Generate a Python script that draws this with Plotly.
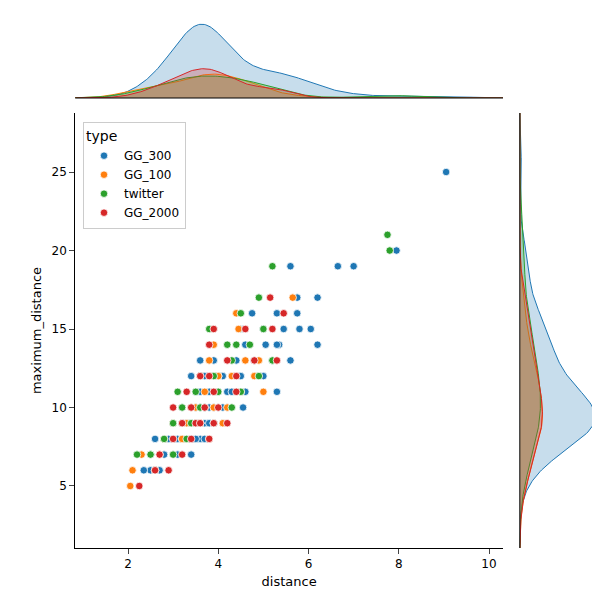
import numpy as np
import plotly.graph_objects as go

types = ["GG_300", "GG_100", "twitter", "GG_2000"]
colors = {"GG_300": "#1f77b4", "GG_100": "#ff7f0e", "twitter": "#2ca02c", "GG_2000": "#d62728"}

gg300_dist = [9.05, 7.95, 7.0, 6.65, 5.6, 6.2, 5.75, 5.3, 5.75, 4.75, 6.05, 5.8, 5.45, 5.0, 4.5,
              6.2, 5.35, 5.05, 4.6, 5.3, 5.6, 5.2, 4.8, 4.4, 3.9, 3.6, 5.3, 4.5, 4.1, 3.7, 3.4, 5.0,
              4.6, 4.2, 3.8, 3.5, 4.0, 4.55, 4.2, 3.9, 3.5, 3.2, 4.1, 3.8, 3.5, 3.2, 3.0, 3.4, 3.1,
              2.8, 2.6, 3.6, 3.4, 3.1, 2.8, 2.5, 2.7, 2.5, 2.35,
              3.3, 3.5, 3.6, 3.7, 3.8, 3.9, 3.4, 3.6, 3.7, 3.5, 3.9, 4.0, 3.3, 3.6, 3.8, 3.2, 3.5,
              3.7, 4.1, 3.6, 3.4, 3.8, 3.0, 3.9, 3.5, 3.7, 4.3, 3.6, 2.9, 3.3, 4.0]
gg300_max = [25, 20, 19, 19, 19, 17, 17, 16, 16, 16, 15, 15, 15, 15, 15,
             14, 14, 14, 14, 14, 13, 13, 13, 13, 13, 13, 11, 12, 12, 12, 12, 12,
             11, 11, 11, 11, 11, 10, 10, 10, 10, 10, 9, 9, 9, 9, 9, 8, 8,
             8, 8, 8, 7, 7, 7, 7, 6, 6, 6,
             9, 9, 10, 10, 9, 11, 8, 9, 10, 10, 9, 10, 9, 11, 10, 8, 8,
             9, 10, 10, 9, 9, 8, 10, 9, 8, 11, 9, 8, 9, 12]

gg100_dist = [5.65, 4.4, 4.45, 4.9, 4.6, 3.8, 4.3, 3.9, 4.0, 4.5, 3.7, 3.9, 3.4, 3.0, 3.6,
              2.8, 3.2, 2.7, 2.3, 2.1, 2.05, 2.6, 4.1, 3.8, 4.8, 5.0, 3.5, 3.3, 4.2, 3.6]
gg100_max = [17, 16, 15, 13, 13, 13, 12, 14, 12, 11, 11, 10, 10, 9, 9,
             8, 8, 7, 7, 6, 5, 6, 9, 8, 12, 11, 10, 9, 10, 9]

tw_dist = [7.75, 7.8, 5.2, 4.9, 4.5, 5.0, 3.8, 4.2, 4.4, 4.7, 5.2, 4.3, 3.6, 4.9, 3.9, 3.1,
           3.5, 4.5, 3.2, 3.7, 4.3, 3.0, 3.5, 3.9, 2.8, 3.3, 2.5, 2.2, 2.6, 3.0, 4.0, 3.6, 3.4]
tw_max = [21, 20, 19, 17, 16, 15, 15, 14, 14, 14, 13, 13, 12, 12, 12, 11,
          11, 11, 10, 10, 10, 9, 9, 9, 8, 8, 7, 7, 6, 7, 11, 10, 9]

gg2000_dist = [5.15, 5.45, 3.9, 5.2, 4.6, 3.8, 4.2, 4.8, 5.3, 3.6, 4.4, 3.3, 3.9, 4.4, 3.4,
               4.0, 3.2, 3.5, 3.9, 4.2, 3.0, 3.4, 3.8, 2.7, 3.2, 2.9, 2.6, 2.25, 3.8, 3.0, 3.6, 3.7]
gg2000_max = [17, 16, 15, 15, 15, 14, 13, 13, 13, 12, 12, 11, 11, 11, 10,
              10, 9, 9, 9, 9, 8, 8, 8, 7, 7, 6, 6, 5, 12, 10, 9, 10]

data = {
    "GG_300": (gg300_dist, gg300_max),
    "GG_100": (gg100_dist, gg100_max),
    "twitter": (tw_dist, tw_max),
    "GG_2000": (gg2000_dist, gg2000_max),
}
total = sum(len(v[0]) for v in data.values())


def kde(values, grid):
    v = np.asarray(values, float)
    bw = v.std(ddof=1) * len(v) ** (-1 / 5)
    d = np.exp(-0.5 * ((grid[:, None] - v[None, :]) / bw) ** 2).sum(1)
    return d / (np.sqrt(2 * np.pi) * bw * total)


def rgba(hexc, a):
    h = hexc.lstrip("#")
    return f"rgba({int(h[0:2],16)},{int(h[2:4],16)},{int(h[4:6],16)},{a})"


fig = go.Figure()
gx = np.linspace(0.8, 10.4, 300)
gy = np.linspace(1.0, 28.8, 300)
top_max = 0
right_max = 0
for t in types:
    xs, ys = data[t]
    c = colors[t]
    kx, ky = kde(xs, gx), kde(ys, gy)
    top_max, right_max = max(top_max, kx.max()), max(right_max, ky.max())
    fig.add_trace(go.Scatter(x=xs, y=ys, mode="markers", name=t,
                             marker=dict(color=c, size=7.5, line=dict(color="white", width=0.8))))
    fig.add_trace(go.Scatter(x=gx, y=kx, mode="lines", xaxis="x", yaxis="y2",
                             fill="tozeroy", fillcolor=rgba(c, 0.25),
                             line=dict(color=c, width=1), showlegend=False))
    fig.add_trace(go.Scatter(x=ky, y=gy, mode="lines", xaxis="x2", yaxis="y",
                             fill="tozerox", fillcolor=rgba(c, 0.25),
                             line=dict(color=c, width=1), showlegend=False))

ax = dict(showgrid=False, zeroline=False, ticks="outside", showline=True, linecolor="black",
          tickfont=dict(size=12, color="black"), mirror=False, automargin=False)
fig.update_layout(
    width=600, height=600, margin=dict(l=0, r=0, t=0, b=0),
    plot_bgcolor="white", paper_bgcolor="white",
    font=dict(family="DejaVu Sans", color="black"),
    xaxis=dict(ax, domain=[0.112, 0.825], range=[0.83, 10.31], dtick=2,
               title=dict(text="distance", font=dict(size=13), standoff=6)),
    yaxis=dict(ax, domain=[0.1, 0.825], range=[1.05, 28.76], dtick=5,
               title=dict(text="maximum_distance", font=dict(size=13), standoff=6)),
    yaxis2=dict(domain=[0.85, 1.0], anchor="x", showgrid=False, zeroline=False, automargin=False,
                showticklabels=False, range=[0, top_max * 1.22], showline=False),
    xaxis2=dict(domain=[0.853, 1.0], anchor="y", showgrid=False, zeroline=False, automargin=False,
                showticklabels=False, range=[0, right_max * 1.17], showline=False),
    legend=dict(x=0.125, y=0.81, xanchor="left", yanchor="top", bgcolor="white",
                bordercolor="#cccccc", borderwidth=1, font=dict(size=12),
                title=dict(text="type", side="top")),
    shapes=[
        dict(type="line", xref="paper", yref="paper", x0=0.112, x1=0.825, y0=0.85, y1=0.85,
             line=dict(color="black", width=1)),
        dict(type="line", xref="paper", yref="paper", x0=0.853, x1=0.853, y0=0.1, y1=0.825,
             line=dict(color="black", width=1)),
    ],
)
fig.write_html("out.html")
